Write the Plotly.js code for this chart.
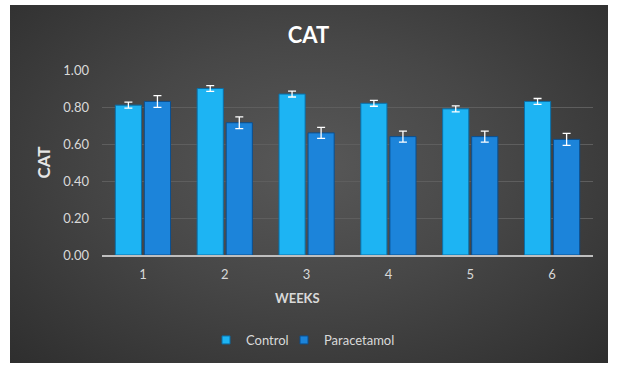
<!DOCTYPE html>
<html>
<head>
<meta charset="utf-8">
<script src="https://cdn.plot.ly/plotly-3.0.1.min.js"></script>
<style>
  html, body { margin: 0; padding: 0; background: #ffffff; }
  #bg { position: absolute; left: 10px; top: 5px; width: 598px; height: 358px;
        background: radial-gradient(ellipse at 50% 45%, #585858 0%, #474747 45%, #2e2e2e 100%); }
  #chart { position: absolute; left: 0; top: 0; width: 617px; height: 370px; }
</style>
</head>
<body>
<div id="bg"></div>
<div id="chart"></div>
<script>
const weeks = ['1', '2', '3', '4', '5', '6'];
const controlValues = [0.81, 0.90, 0.87, 0.82, 0.79, 0.83];
const controlErrors = [0.016, 0.016, 0.016, 0.016, 0.016, 0.016];
const paracetamolValues = [0.83, 0.715, 0.66, 0.64, 0.64, 0.625];
const paracetamolErrors = [0.032, 0.032, 0.03, 0.03, 0.03, 0.032];
const yTickVals = [0, 0.2, 0.4, 0.6, 0.8, 1.0];
const yTickText = ['0.00', '0.20', '0.40', '0.60', '0.80', '1.00'];

const font = 'Lato, "Liberation Sans", sans-serif';
const txt = '#d9d9d9';
const controlColor = '#1db4f3';
const paraColor = '#1c84da';

const traces = [
  {
    type: 'bar', name: 'Control', x: weeks, y: controlValues, showlegend: false,
    marker: { color: controlColor, line: { color: '#0a6fa8', width: 1 } },
    error_y: { type: 'data', array: controlErrors, visible: true, color: '#ffffff', thickness: 1.3, width: 4 }
  },
  {
    type: 'bar', name: 'Paracetamol', x: weeks, y: paracetamolValues, showlegend: false,
    marker: { color: paraColor, line: { color: '#0b4f8f', width: 1 } },
    error_y: { type: 'data', array: paracetamolErrors, visible: true, color: '#ffffff', thickness: 1.3, width: 4 }
  },
  {
    type: 'scatter', mode: 'markers', name: 'Control', x: [null], y: [null], showlegend: true, legend: 'legend',
    marker: { symbol: 'square', size: 8, color: controlColor, line: { color: '#0a6fa8', width: 1 } }
  },
  {
    type: 'scatter', mode: 'markers', name: 'Paracetamol', x: [null], y: [null], showlegend: true, legend: 'legend2',
    marker: { symbol: 'square', size: 8, color: paraColor, line: { color: '#0b4f8f', width: 1 } }
  }
];

const legendBase = {
  orientation: 'h', xanchor: 'left', y: (255 - 340) / 185, yanchor: 'middle',
  font: { family: font, size: 13, color: txt }, bgcolor: 'rgba(0,0,0,0)', itemwidth: 30
};

const layout = {
  width: 617, height: 370,
  paper_bgcolor: 'rgba(0,0,0,0)', plot_bgcolor: 'rgba(0,0,0,0)',
  margin: { l: 102, r: 24, t: 70, b: 115 },
  font: { family: font, color: txt, size: 13 },
  title: { text: '<b>CAT</b>', font: { family: font, size: 22, color: '#ffffff' },
           xref: 'container', x: 0.5, xanchor: 'center', yref: 'container', y: 1 - 35/370, yanchor: 'middle' },
  barmode: 'group', bargap: 0.29, bargroupgap: 0.1,
  xaxis: {
    type: 'category', showgrid: false, zeroline: false,
    showline: true, linecolor: '#bfbfbf', linewidth: 2,
    ticks: '', tickfont: { family: font, size: 13, color: txt }, ticklabelstandoff: 6
  },
  yaxis: {
    range: [0, 1.0], tickvals: yTickVals, ticktext: yTickText,
    showgrid: true, gridcolor: '#5e5e5e', gridwidth: 1, zeroline: false, showline: false,
    ticks: '', tickfont: { family: font, size: 13, color: txt }, ticklabelstandoff: 12
  },
  showlegend: true,
  legend: Object.assign({}, legendBase, { x: (206 - 102) / 491 }),
  legend2: Object.assign({}, legendBase, { x: (284 - 102) / 491 }),
  annotations: [
    { text: '<b>WEEKS</b>', xref: 'paper', yref: 'paper', x: (297 - 102) / 491, y: (255 - 298) / 185,
      xanchor: 'center', yanchor: 'middle', showarrow: false, font: { family: font, size: 13, color: txt } },
    { text: '<b>CAT</b>', xref: 'paper', yref: 'paper', x: (43 - 102) / 491, y: 0.5, textangle: -90,
      xanchor: 'center', yanchor: 'middle', showarrow: false, font: { family: font, size: 17, color: '#e6e6e6' } }
  ]
};

Plotly.newPlot('chart', traces, layout, { displayModeBar: false, staticPlot: true });
</script>
</body>
</html>
